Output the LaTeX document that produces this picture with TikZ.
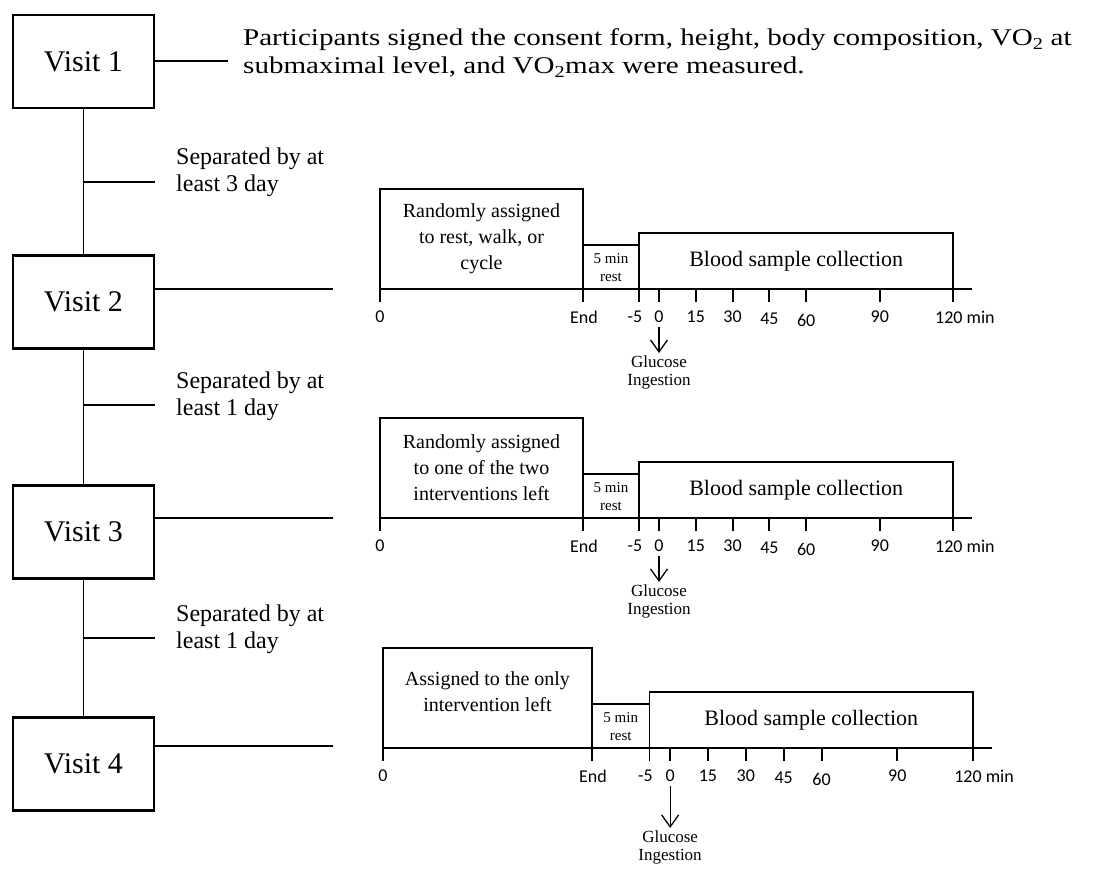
\documentclass[tikz,border=0pt]{standalone}
\usepackage{fontspec}
\setmainfont{Liberation Serif}
\newfontfamily\calib{Carlito}
\newfontfamily\widefont[FakeStretch=1.21]{Liberation Serif}
\usetikzlibrary{arrows.meta}

\tikzset{
  visitbox/.style={draw, line width=2.4pt, minimum width=141pt, minimum height=93pt,
    inner sep=0pt, font=\fontsize{30}{34}\selectfont},
  link/.style={line width=1.8pt},
  tlline/.style={line width=1.9pt},
  tickline/.style={line width=1.9pt},
  ticklbl/.style={font=\calib\fontsize{18}{20}\selectfont, inner sep=0pt},
  boxtext/.style={align=center, font=\fontsize{20}{26}\selectfont, inner sep=0pt},
  bloodtext/.style={font=\fontsize{22}{26}\selectfont, inner sep=0pt},
  resttext/.style={align=center, font=\fontsize{15}{18}\selectfont, inner sep=0pt},
  sepnote/.style={align=left, anchor=west, font=\fontsize{24}{27}\selectfont, inner sep=0pt},
  glutext/.style={align=center, anchor=north, font=\fontsize{17}{18}\selectfont, inner sep=2pt},
  gluarrow/.style={line width=1.3pt, -{Straight Barb[length=12pt,width=17pt,line width=1.3pt]}, shorten <=4pt},
}

% #1 x0, #2 y, #3 xscale, #4 box text, #5 id, #6 text dy, #7 glucose offset
\newcommand\timeline[7]{%
\begin{scope}[shift={(#1,#2)}, xscale=#3]
  \draw[tlline] (0,0) rectangle (203,-100);
  \draw[tlline] (203,0) rectangle (259,-44);
  \draw[tlline] (259,0) rectangle (573.4,-56);
  \draw[tlline] (0,0) -- (592,0);
  \foreach \x in {0,203,259} \draw[tickline] (\x,0) -- (\x,13);
  \foreach \k in {0,1,2,3,4,6,8} \draw[tickline] ({279+\k*36.8},0) -- ({279+\k*36.8},13);
  \node[boxtext] (#5r) at (101.5,{-50+#6}) {#4};
  \node[resttext] (#5s) at (231,-21) {5 min\\rest};
  \node[bloodtext] (#5b) at (416.2,-28) {Blood sample collection};
  \node[ticklbl] (#5l0) at (0,28) {0};
  \node[ticklbl] (#5le) at (204,28) {End};
  \node[ticklbl] (#5lm) at (255,28) {-5};
  \node[ticklbl] (#5z) at (279,28) {0};
  \node[ticklbl] (#5l15) at (315.8,28) {15};
  \node[ticklbl] (#5l30) at (352.6,28) {30};
  \node[ticklbl] (#5l45) at (389.4,30) {45};
  \node[ticklbl] (#5l60) at (426.2,31) {60};
  \node[ticklbl] (#5l90) at (499.8,28) {90};
  \node[ticklbl, anchor=west] (#5l120) at (555,28) {120 min};
  \node[glutext] (#5g) at (279,#7) {Glucose\\Ingestion};
  \draw[gluarrow] (#5z.south) -- (#5g.north);
\end{scope}}

\begin{document}
\begin{tikzpicture}[x=1pt, y=-1pt]
  \useasboundingbox (0,0) rectangle (1094,870);

  % visits
  \node[visitbox] (v1) at (83.5,61.5) {Visit 1};
  \node[visitbox] (v2) at (83.5,302) {Visit 2};
  \node[visitbox] (v3) at (83.5,532) {Visit 3};
  \node[visitbox] (v4) at (83.5,764) {Visit 4};

  \draw[link] (v1) -- (v2);
  \draw[link] (v2) -- (v3);
  \draw[link] (v3) -- (v4);

  % visit 1 note
  \coordinate (c1) at (228,61);
  \draw[link] (v1.east |- c1) -- (c1);
  \node[anchor=west, align=left, inner sep=0pt, font=\widefont\fontsize{24}{28}\selectfont] (p)
    at (243,53) {Participants signed the consent form, height, body composition, VO\textsubscript{2} at\\
    submaximal level, and VO\textsubscript{2}max were measured.};

  % separators
  \coordinate (s1) at (155,182);
  \coordinate (s2) at (155,405);
  \coordinate (s3) at (155,638);
  \draw[link] (v1.south |- s1) -- (s1);
  \draw[link] (v1.south |- s2) -- (s2);
  \draw[link] (v1.south |- s3) -- (s3);
  \node[sepnote] (n1) at (176,172) {Separated by at\\least 3 day};
  \node[sepnote] (n2) at (176,396) {Separated by at\\least 1 day};
  \node[sepnote] (n3) at (176,629) {Separated by at\\least 1 day};

  % visit lines to timelines
  \coordinate (e2) at (333,289);
  \coordinate (e3) at (333,518);
  \coordinate (e4) at (333,746);
  \draw[link] (v2.east |- e2) -- (e2);
  \draw[link] (v3.east |- e3) -- (e3);
  \draw[link] (v4.east |- e4) -- (e4);

  % timelines
  \timeline{380}{289}{1}{Randomly assigned\\to rest, walk, or\\cycle}{ta}{0}{64}
  \timeline{380}{518}{1}{Randomly assigned\\to one of the two\\interventions left}{tb}{0}{64}
  \timeline{383}{748}{1.029}{Assigned to the only\\intervention left}{tc}{-6}{80}
\end{tikzpicture}
\end{document}
